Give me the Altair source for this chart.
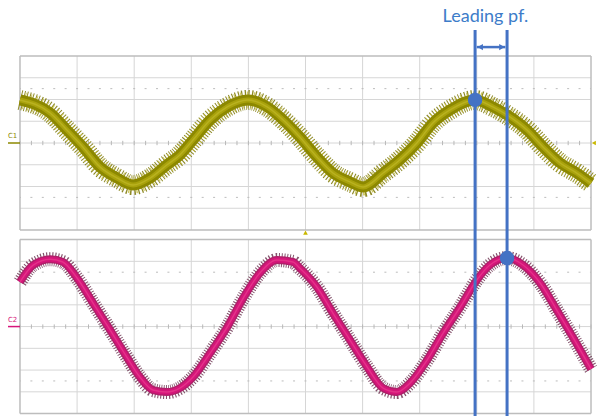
import altair as alt
import pandas as pd

# ---- sampled traces (time in screen divisions, amplitude in vertical divisions) ----
ch1_t = [0.00, 0.53, 0.82, 1.10, 1.40, 1.70, 1.98, 2.28, 2.57, 2.80, 3.03, 3.33,
         3.63, 3.99, 4.33, 4.61, 4.90, 5.20, 5.48, 5.78, 6.01, 6.36, 6.65, 6.95,
         7.23, 7.53, 7.97, 8.28, 8.53, 8.88, 9.16, 9.46, 9.75, 10.00]
ch1_v = [1.98, 1.38, 0.60, -0.18, -1.10, -1.61, -1.93, -1.61, -1.01, -0.55, 0.14, 1.06,
         1.66, 1.98, 1.66, 1.06, 0.28, -0.64, -1.38, -1.79, -2.02, -1.38, -0.78, 0.00,
         0.92, 1.52, 1.98, 1.66, 1.29, 0.60, -0.18, -0.92, -1.38, -1.85]

ch2_t = [0.00, 0.23, 0.53, 0.75, 1.00, 1.28, 1.58, 1.87, 2.10, 2.33, 2.57, 2.80,
         3.03, 3.33, 3.63, 3.91, 4.20, 4.50, 4.78, 4.90, 5.20, 5.48, 5.78, 6.08,
         6.36, 6.60, 6.83, 7.13, 7.41, 7.71, 8.00, 8.23, 8.53, 8.81, 9.11, 9.40,
         9.68, 10.00]
ch2_v = [2.05, 2.83, 3.10, 2.97, 2.23, 1.08, -0.16, -1.40, -2.32, -2.92, -3.01, -2.83,
         -2.32, -1.22, -0.02, 1.31, 2.46, 3.06, 2.97, 2.69, 1.82, 0.62, -0.62, -1.86,
         -2.83, -3.01, -2.60, -1.54, -0.30, 0.90, 2.14, 2.83, 3.15, 2.83, 2.00, 0.76,
         -0.48, -1.95]

# cursor positions (divisions) and the peaks they mark
cursor_t = [7.97, 8.53]
peak_v = [1.98, 3.15]
annotation = "Leading pf."

# ---- screen layout in division units ----
W, H = 601, 416
XMIN, XMAX = -0.350, 10.175
YMAX, YMIN = 6.575, -12.552
C2_OFFSET = -8.44

GRID = "#d6d6d6"
BORDER = "#bdbdbd"
BLUE = "#4472c4"
OLIVE = "#8c8800"
MAGENTA = "#d6157a"

xs = alt.Scale(domain=[XMIN, XMAX], nice=False, zero=False)
ys = alt.Scale(domain=[YMIN, YMAX], nice=False, zero=False)


def X(f="x"):
    return alt.X(f"{f}:Q", scale=xs, axis=None)


def Y(f="y"):
    return alt.Y(f"{f}:Q", scale=ys, axis=None)


# graticule for both channels
grid_rows, border_rows, tick_rows, dot_rows = [], [], [], []
for off in (0.0, C2_OFFSET):
    for i in range(11):
        row = dict(x=i, x2=i, y=off - 4, y2=off + 4)
        (border_rows if i in (0, 10) else grid_rows).append(row)
    for j in range(-4, 5):
        row = dict(x=0, x2=10, y=off + j, y2=off + j)
        (border_rows if j in (-4, 4) else grid_rows).append(row)
    for k in range(51):
        tick_rows.append(dict(x=k * 0.2, x2=k * 0.2, y=off - 0.1, y2=off + 0.1))
    for j in (-2.5, 2.5):
        dot_rows.append(dict(x=0, x2=10, y=off + j, y2=off + j))

grid = alt.Chart(pd.DataFrame(grid_rows)).mark_rule(color=GRID, strokeWidth=1).encode(
    x=X(), x2="x2:Q", y=Y(), y2="y2:Q")
ticks = alt.Chart(pd.DataFrame(tick_rows)).mark_rule(color="#b8b8b8", strokeWidth=1).encode(
    x=X(), x2="x2:Q", y=Y(), y2="y2:Q")
dots = alt.Chart(pd.DataFrame(dot_rows)).mark_rule(
    color="#bcbcbc", strokeWidth=1, strokeDash=[2, 9.42], strokeDashOffset=-10.4).encode(
    x=X(), x2="x2:Q", y=Y(), y2="y2:Q")
border = alt.Chart(pd.DataFrame(border_rows)).mark_rule(color=BORDER, strokeWidth=1.5).encode(
    x=X(), x2="x2:Q", y=Y(), y2="y2:Q")

# traces
ch1 = pd.DataFrame({"x": ch1_t, "y": ch1_v})
ch2 = pd.DataFrame({"x": ch2_t, "v": ch2_v})
ch2["y"] = ch2["v"] + C2_OFFSET


def trace(df, layers):
    out = []
    for kw in layers:
        out.append(alt.Chart(df).mark_line(interpolate="monotone", strokeCap="butt", **kw)
                   .encode(x=X(), y=Y()))
    return out


ch1_layers = trace(ch1, [
    dict(color="#7a7600", strokeWidth=20, strokeDash=[1, 1.8], opacity=0.85),
    dict(color="#c4bc3a", strokeWidth=17, strokeDash=[1, 4.5], strokeDashOffset=1.5, opacity=0.8),
    dict(color=OLIVE, strokeWidth=11),
    dict(color="#a9a20c", strokeWidth=5),
    dict(color="#bdb526", strokeWidth=1.5, opacity=0.8),
])
ch2_layers = trace(ch2, [
    dict(color="#6e3552", strokeWidth=14, strokeDash=[1, 1.6], opacity=0.85),
    dict(color="#b0206a", strokeWidth=8),
    dict(color=MAGENTA, strokeWidth=5),
    dict(color="#e63a8c", strokeWidth=1.5, opacity=0.8),
])

# channel labels and markers
labels = pd.DataFrame({"x": [-0.13, -0.13], "y": [0.18, C2_OFFSET + 0.18],
                       "t": ["C1", "C2"], "c": [OLIVE, MAGENTA]})
label_text = alt.Chart(labels).mark_text(fontSize=7, font="DejaVu Sans", baseline="bottom").encode(
    x=X(), y=Y(), text="t:N", color=alt.Color("c:N", scale=None))
label_bar = alt.Chart(labels.assign(x0=-0.21, x1=-0.0, yb=[0.0, C2_OFFSET])).mark_rule(
    strokeWidth=1.5).encode(x=X("x0"), x2="x1:Q", y=Y("yb"), color=alt.Color("c:N", scale=None))

markers = pd.DataFrame({"x": [5.0, 10.05], "y": [-4.12, 0.0], "s": ["triangle-up", "triangle-left"]})
marks = alt.Chart(markers).mark_point(filled=True, size=22, color="#c9b800", opacity=1).encode(
    x=X(), y=Y(), shape=alt.Shape("s:N", scale=None))

# cursors
cur = pd.DataFrame({"x": cursor_t, "top": [5.2, 5.2], "bot": [YMIN, YMIN]})
cursor_lines = alt.Chart(cur).mark_rule(color=BLUE, strokeWidth=3).encode(
    x=X(), y=Y("top"), y2="bot:Q")
peaks = pd.DataFrame({"x": cursor_t, "y": [peak_v[0], peak_v[1] + C2_OFFSET]})
peak_dots = alt.Chart(peaks).mark_point(filled=True, size=210, color=BLUE, opacity=1).encode(
    x=X(), y=Y())

arrow = pd.DataFrame({"x": [cursor_t[0] + 0.03], "x2": [cursor_t[1] - 0.03], "y": [4.41]})
arrow_shaft = alt.Chart(arrow).mark_rule(color=BLUE, strokeWidth=2.5).encode(
    x=X(), x2="x2:Q", y=Y())
heads = pd.DataFrame({"x": [cursor_t[0] + 0.09, cursor_t[1] - 0.09], "y": [4.41, 4.41],
                      "s": ["triangle-left", "triangle-right"]})
arrow_heads = alt.Chart(heads).mark_point(filled=True, size=40, color=BLUE, opacity=1).encode(
    x=X(), y=Y(), shape=alt.Shape("s:N", scale=None))

title = pd.DataFrame({"x": [sum(cursor_t) / 2 - 0.1], "y": [5.56], "t": [annotation]})
title_text = alt.Chart(title).mark_text(
    font="Lato", fontSize=18, color="#3d7cc9", align="center", baseline="alphabetic").encode(
    x=X(), y=Y(), text="t:N")

chart = alt.layer(
    grid, dots, ticks, border,
    *ch1_layers, *ch2_layers,
    label_bar, label_text, marks,
    cursor_lines, arrow_shaft, arrow_heads, peak_dots, title_text,
).properties(width=W, height=H, padding=0, autosize="none", background="white"
).configure_view(stroke=None)

chart.save("out.html", embed_options={"renderer": "svg", "actions": False})
